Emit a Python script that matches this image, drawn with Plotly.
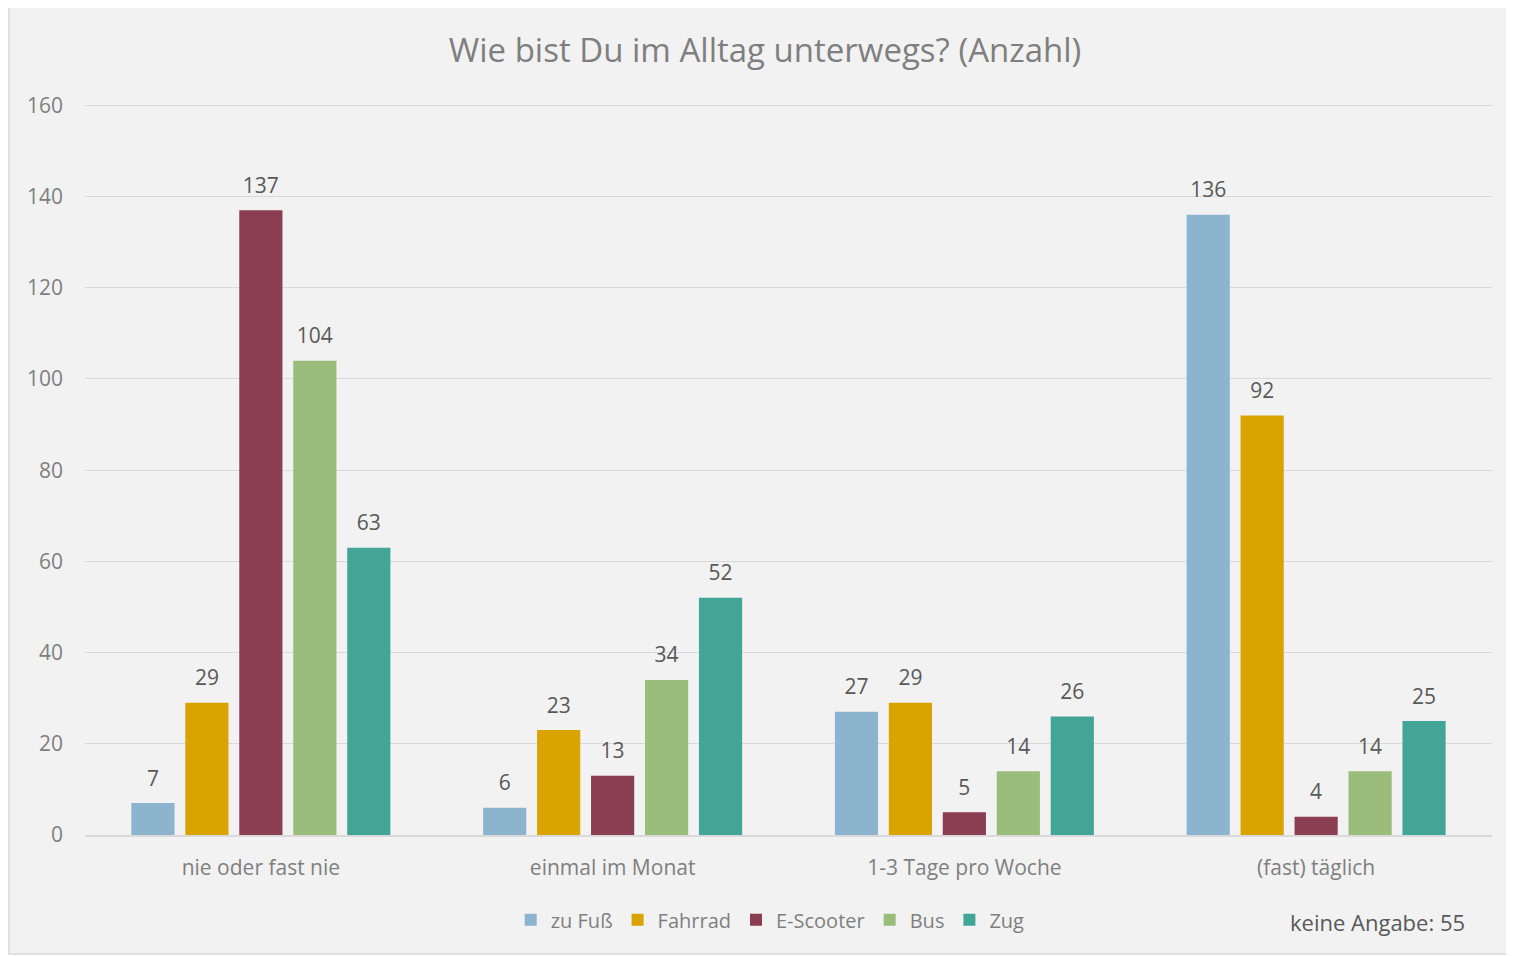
import plotly.graph_objects as go

# Data
categories = ["nie oder fast nie", "einmal im Monat", "1-3 Tage pro Woche", "(fast) täglich"]
series_names = ["zu Fuß", "Fahrrad", "E-Scooter", "Bus", "Zug"]
zu_fuss = [7, 6, 27, 136]
fahrrad = [29, 23, 29, 92]
e_scooter = [137, 13, 5, 4]
bus = [104, 34, 14, 14]
zug = [63, 52, 26, 25]
colors = ["#8DB4CF", "#D9A300", "#8B3D52", "#9ABD7C", "#43A596"]

font_family = "Open Sans, Noto Sans, sans-serif"
axis_grey = "#7f7f7f"
label_grey = "#595959"

fig = go.Figure()

all_series = [zu_fuss, fahrrad, e_scooter, bus, zug]
for name, values, color in zip(series_names, all_series, colors):
    fig.add_trace(go.Bar(
        x=categories,
        y=values,
        name=name,
        marker=dict(color=color, line=dict(width=0)),
        offsetgroup=name,
        hoverinfo="skip",
    ))

# Data labels as grouped text scatter, invisible marker pushes text up
for name, values in zip(series_names, all_series):
    fig.add_trace(go.Scatter(
        x=categories,
        y=values,
        mode="markers+text",
        text=[str(v) for v in values],
        textposition="top center",
        textfont=dict(family=font_family, size=21, color=label_grey),
        marker=dict(size=18, opacity=0),
        offsetgroup=name,
        showlegend=False,
        hoverinfo="skip",
        cliponaxis=False,
    ))

# Light grey chart frame
fig.add_shape(
    type="rect", xref="paper", yref="paper",
    x0=-0.054, x1=1.0142, y0=-0.1628, y1=1.133,
    fillcolor="#f2f2f2", line=dict(color="#d9d9d9", width=1.5),
    layer="below",
)

fig.add_annotation(
    text="keine Angabe: 55",
    xref="paper", yref="paper",
    x=0.982, y=-0.119,
    xanchor="right", yanchor="middle",
    showarrow=False,
    font=dict(family=font_family, size=22, color=label_grey),
)

fig.update_layout(
    width=1506,
    height=948,
    margin=dict(l=77, r=22, t=96, b=121),
    paper_bgcolor="white",
    plot_bgcolor="rgba(0,0,0,0)",
    font=dict(family=font_family, color=axis_grey),
    title=dict(
        text="Wie bist Du im Alltag unterwegs? (Anzahl)",
        x=0.5027, xanchor="center",
        y=0.9557, yanchor="middle",
        font=dict(family=font_family, size=33, color=axis_grey),
    ),
    barmode="group",
    scattermode="group",
    bargap=0.233,
    bargroupgap=0.2,
    scattergap=0.233,
    showlegend=True,
    legend=dict(
        orientation="h",
        x=0.487, xanchor="center",
        y=-0.116, yanchor="middle",
        font=dict(family=font_family, size=20, color=axis_grey),
        bgcolor="rgba(0,0,0,0)",
        itemwidth=30,
        traceorder="normal",
    ),
    xaxis=dict(
        showgrid=False,
        showline=True,
        linecolor="#d9d9d9",
        linewidth=1.5,
        ticks="",
        ticklabelstandoff=13,
        tickfont=dict(family=font_family, size=21, color=axis_grey),
    ),
    yaxis=dict(
        range=[0, 160.3],
        dtick=20,
        showgrid=True,
        gridcolor="#d9d9d9",
        gridwidth=1,
        zeroline=False,
        showline=False,
        ticks="",
        ticklabelstandoff=21,
        tickfont=dict(family=font_family, size=21, color=axis_grey),
    ),
)

fig.write_html("out.html")
